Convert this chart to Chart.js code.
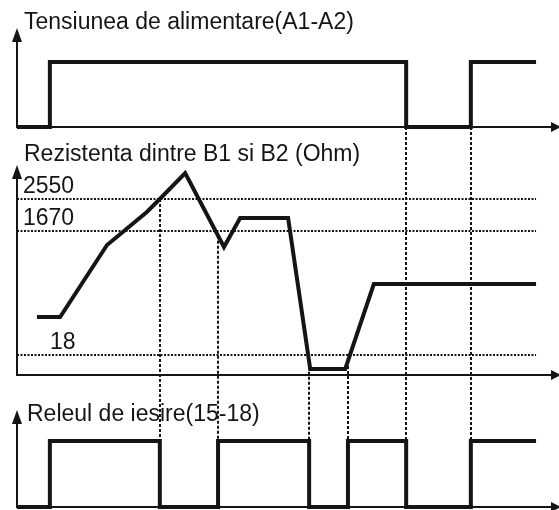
<!DOCTYPE html>
<html>
<head>
<meta charset="utf-8">
<script src="https://cdn.jsdelivr.net/npm/chart.js@4/dist/chart.umd.min.js"></script>
<style>
  html, body { margin: 0; padding: 0; background: #fff; }
  #wrap { width: 559px; height: 510px; }
</style>
</head>
<body>
<div id="wrap"><canvas id="timing" width="559" height="510"></canvas></div>
<script>
// time runs 0..100 (arbitrary units, the diagram is schematic)
const supplyTime = [0, 6.1, 72.2, 84.2, 96.3];
const supplyLevel = [0, 1, 0, 1, 1];

// resistance as a schematic level, not to scale (0 = axis)
const resistTime = [3.7, 8.0, 16.7, 24.1, 26.5, 31.2, 38.4, 41.4, 50.3, 54.4, 60.9, 66.2, 96.3];
const resistLevel = [29, 29, 65, 81.5, 88, 101, 64, 78.5, 78.5, 3, 3, 45.5, 45.5];

const resistTickLevel = [10, 72, 88];
const resistTickLabel = ['18', '1670', '2550'];

const relayTime = [0, 6.1, 26.5, 37.3, 54.2, 61.4, 72.2, 84.2, 96.3];
const relayLevel = [0, 1, 0, 1, 0, 1, 0, 1, 1];

const titles = ['Tensiunea de alimentare(A1-A2)', 'Rezistenta dintre B1 si B2 (Ohm)', 'Releul de iesire(15-18)'];
const lineEnd = 96.3;

const ink = '#151515';
const H = 510;
// pixel layout of the three panels
const panels = [
    { axis: 'ySupply', base: 127, high: 62, top: 1, tip: 28, titleX: 24, titleY: 29 },
    { axis: 'yResist', base: 375, high: 175, top: 100, tip: 165, titleX: 24, titleY: 161 },
    { axis: 'yRelay', base: 507, high: 441, top: 1, tip: 410, titleX: 27, titleY: 421 }
];
const tickLabelX = [50, 23, 23];

function band(p) {
    var perPx = p.top / (p.base - p.high);
    return { min: -(H - p.base) * perPx, max: p.base * perPx };
}

function points(xs, ys) {
    return xs.map(function(t, i) { return { x: t, y: ys[i] }; });
}

function levelAt(t) {
    for (var i = 1; i < resistTime.length; i++) {
        if (t <= resistTime[i]) {
            var f = (t - resistTime[i - 1]) / (resistTime[i] - resistTime[i - 1]);
            return resistLevel[i - 1] + f * (resistLevel[i] - resistLevel[i - 1]);
        }
    }
    return resistLevel[resistLevel.length - 1];
}

var signal = { borderColor: ink, borderWidth: 4, pointRadius: 0, fill: false,
               borderJoinStyle: 'miter', borderCapStyle: 'butt', order: 0 };

var datasets = [
    Object.assign({ label: titles[0], data: points(supplyTime, supplyLevel), yAxisID: 'ySupply', stepped: true }, signal),
    Object.assign({ label: titles[1], data: points(resistTime, resistLevel), yAxisID: 'yResist' }, signal),
    Object.assign({ label: titles[2], data: points(relayTime, relayLevel), yAxisID: 'yRelay', stepped: true }, signal)
];
resistTickLevel.forEach(function(lvl, i) {
    datasets.push({
        label: resistTickLabel[i],
        data: [{ x: 0, y: lvl }, { x: lineEnd, y: lvl }],
        yAxisID: 'yResist',
        borderColor: ink, borderWidth: 2, borderDash: [2, 1.5],
        pointRadius: 0, order: 1
    });
});

const decor = {
    id: 'decor',
    beforeDatasetsDraw: function(chart) {
        var ctx = chart.ctx, x = chart.scales.x;
        var ys = chart.scales.ySupply, yr = chart.scales.yResist, yl = chart.scales.yRelay;
        ctx.save();
        // dashed guides at every relay switch after power-up
        ctx.strokeStyle = ink;
        ctx.lineWidth = 2;
        ctx.setLineDash([3, 2]);
        relayTime.slice(2, -1).forEach(function(t) {
            var from = supplyTime.indexOf(t) >= 0 ? ys.getPixelForValue(0) : yr.getPixelForValue(levelAt(t));
            var px = Math.round(x.getPixelForValue(t));
            ctx.beginPath();
            ctx.moveTo(px, from);
            ctx.lineTo(px, yl.getPixelForValue(1));
            ctx.stroke();
        });
        ctx.setLineDash([]);

        // axes with arrow heads
        var x0 = x.getPixelForValue(0), xEnd = chart.width;
        ctx.fillStyle = ink;
        panels.forEach(function(p) {
            var base = chart.scales[p.axis].getPixelForValue(0);
            ctx.beginPath();
            ctx.moveTo(x0, p.tip + 10);
            ctx.lineTo(x0, base);
            ctx.lineTo(xEnd - 6, base);
            ctx.stroke();
            ctx.beginPath();
            ctx.moveTo(x0, p.tip);
            ctx.lineTo(x0 - 5, p.tip + 14);
            ctx.lineTo(x0 + 5, p.tip + 14);
            ctx.closePath();
            ctx.fill();
            ctx.beginPath();
            ctx.moveTo(xEnd + 2, base);
            ctx.lineTo(xEnd - 8, base - 5);
            ctx.lineTo(xEnd - 8, base + 5);
            ctx.closePath();
            ctx.fill();
        });
        ctx.restore();
    },
    afterDatasetsDraw: function(chart) {
        var ctx = chart.ctx, yr = chart.scales.yResist;
        ctx.save();
        ctx.fillStyle = ink;
        ctx.font = '23px "Liberation Sans", Arial, sans-serif';
        ctx.textBaseline = 'alphabetic';
        panels.forEach(function(p, i) {
            ctx.fillText(titles[i], p.titleX, p.titleY);
        });
        resistTickLabel.forEach(function(label, i) {
            ctx.fillText(label, tickLabelX[i], yr.getPixelForValue(resistTickLevel[i]) - 6);
        });
        ctx.restore();
    }
};

new Chart(document.getElementById('timing'), {
    type: 'line',
    data: { datasets: datasets },
    options: {
        responsive: false,
        animation: false,
        events: [],
        layout: { padding: { left: 17, right: 3, top: 0, bottom: 0 } },
        plugins: { legend: { display: false }, tooltip: { enabled: false } },
        scales: {
            x: { type: 'linear', min: 0, max: 100, display: false },
            ySupply: Object.assign({ type: 'linear', display: false }, band(panels[0])),
            yResist: Object.assign({ type: 'linear', display: false }, band(panels[1])),
            yRelay: Object.assign({ type: 'linear', display: false }, band(panels[2]))
        }
    },
    plugins: [decor]
});
</script>
</body>
</html>
